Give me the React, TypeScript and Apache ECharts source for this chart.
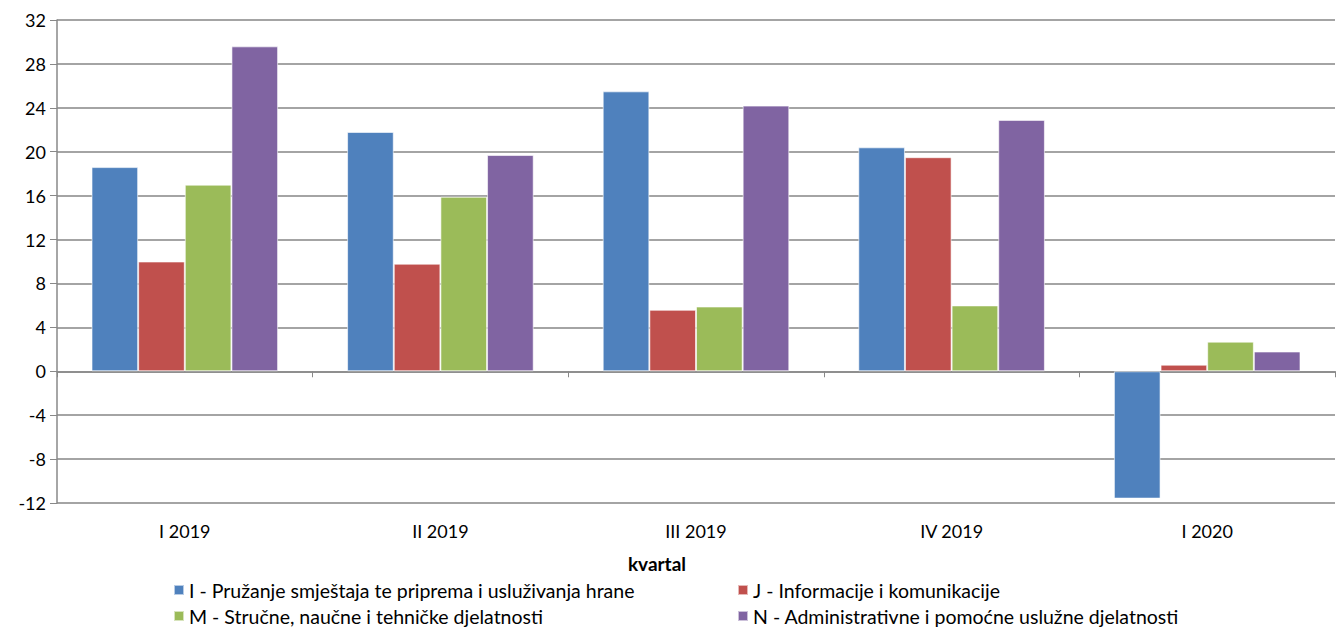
import React, { useEffect, useRef } from "react";
import * as echarts from "echarts";

const categories = ["I 2019", "II 2019", "III 2019", "IV 2019", "I 2020"];
const seriesNames = [
  "I - Pružanje smještaja te priprema i usluživanja hrane",
  "J - Informacije i komunikacije",
  "M - Stručne, naučne i tehničke djelatnosti",
  "N - Administrativne i pomoćne uslužne djelatnosti",
];
const valuesI = [18.6, 21.8, 25.5, 20.4, -11.6];
const valuesJ = [10.0, 9.8, 5.6, 19.5, 0.6];
const valuesM = [17.0, 15.9, 5.9, 6.0, 2.7];
const valuesN = [29.6, 19.7, 24.2, 22.9, 1.8];
const colors = ["#4F81BD", "#C0504D", "#9BBB59", "#8064A2"];
const yTicks = { min: -12, max: 32, interval: 4 };
const axisTitle = "kvartal";

export default function App() {
  const ref = useRef<HTMLDivElement>(null);
  useEffect(() => {
    if (!ref.current) return;
    const chart = echarts.init(ref.current, undefined, { renderer: "svg" });
    const font = "Lato, 'Open Sans', sans-serif";
    const data = [valuesI, valuesJ, valuesM, valuesN];
    const legendPos = [
      { left: 173, top: 580 },
      { left: 737, top: 580 },
      { left: 173, top: 606 },
      { left: 737, top: 606 },
    ];
    chart.setOption({
      animation: false,
      textStyle: { fontFamily: font },
      grid: { left: 57, right: 1, top: 20, bottom: 126, containLabel: false },
      legend: seriesNames.map((n, i) => ({
        left: legendPos[i].left,
        top: legendPos[i].top,
        padding: 0,
        itemWidth: 10,
        itemHeight: 10,
        icon: "rect",
        data: [n],
        textStyle: { fontSize: 19.5, color: "#000", fontFamily: font },
      })),
      graphic: [
        {
          type: "text",
          x: 657,
          y: 563,
          style: {
            text: axisTitle,
            font: "bold 19px " + font,
            fill: "#000",
            align: "center",
            verticalAlign: "middle",
          },
        },
      ],
      xAxis: [
        {
          type: "category",
          data: categories,
          axisLine: { onZero: true, lineStyle: { color: "#888", width: 1.5 } },
          axisTick: { show: true, length: 6, lineStyle: { color: "#888" } },
          axisLabel: { show: false },
        },
        {
          type: "category",
          data: categories,
          position: "bottom",
          axisLine: { show: false },
          axisTick: { show: false },
          axisLabel: { show: true, fontSize: 18, color: "#000", margin: 19, fontFamily: font },
        },
      ],
      yAxis: {
        type: "value",
        min: yTicks.min,
        max: yTicks.max,
        interval: yTicks.interval,
        axisLine: { show: true, lineStyle: { color: "#888", width: 1.5 } },
        axisTick: { show: true, length: 7, lineStyle: { color: "#888" } },
        axisLabel: { fontSize: 18, color: "#000", margin: 11, fontFamily: font },
        splitLine: { lineStyle: { color: "#868686", width: 1.5 } },
      },
      series: data.map((d, i) => ({
        name: seriesNames[i],
        type: "bar",
        data: d,
        xAxisIndex: 0,
        barGap: "0%",
        barCategoryGap: "27%",
        itemStyle: { color: colors[i], borderColor: "rgba(255,255,255,0.6)", borderWidth: 1 },
      })),
    });
    return () => chart.dispose();
  }, []);
  return (
    <div
      ref={ref}
      style={{ position: "fixed", left: 0, top: 0, width: 1336, height: 629, background: "#fff" }}
    />
  );
}
